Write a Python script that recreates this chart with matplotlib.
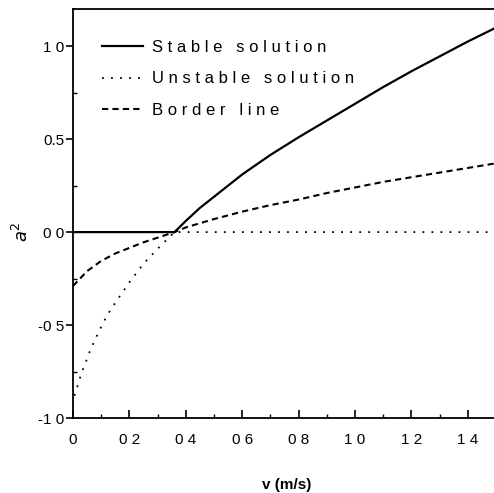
import numpy as np
import matplotlib
matplotlib.use('Agg')
import matplotlib.pyplot as plt
from matplotlib.ticker import FixedLocator, FixedFormatter, MultipleLocator

plt.rcParams['font.family'] = ['Liberation Sans', 'DejaVu Sans']

# Values
stable_v = [0.0, 0.36, 0.40, 0.45, 0.50, 0.60, 0.70, 0.80, 0.90, 1.00, 1.10, 1.20, 1.30, 1.40, 1.50]
stable_a2 = [0.0, 0.0, 0.06, 0.13, 0.19, 0.31, 0.415, 0.51, 0.60, 0.69, 0.78, 0.865, 0.945, 1.025, 1.10]

unstable_v = [0.005, 0.03, 0.06, 0.09, 0.12, 0.15, 0.20, 0.25, 0.30, 0.36, 0.60, 0.90, 1.20, 1.50]
unstable_a2 = [-0.88, -0.76, -0.64, -0.54, -0.45, -0.38, -0.27, -0.17, -0.09, 0.0, 0.0, 0.0, 0.0, 0.0]

border_v = [0.0, 0.05, 0.10, 0.15, 0.20, 0.25, 0.30, 0.36, 0.40, 0.50, 0.60, 0.70, 0.80, 0.90,
            1.00, 1.10, 1.20, 1.30, 1.40, 1.50]
border_a2 = [-0.29, -0.21, -0.155, -0.115, -0.085, -0.055, -0.03, 0.0, 0.025, 0.07, 0.11, 0.145,
             0.175, 0.21, 0.24, 0.27, 0.295, 0.32, 0.345, 0.37]

labels = ['Stable solution', 'Unstable solution', 'Border line']

xticks = [0.0, 0.2, 0.4, 0.6, 0.8, 1.0, 1.2, 1.4]
xticklabels = ['0', '0 2', '0 4', '0 6', '0 8', '1 0', '1 2', '1 4']
yticks = [-1.0, -0.5, 0.0, 0.5, 1.0]
yticklabels = ['-1 0', '-0 5', '0 0', '0.5', '1 0']


def spaced(s):
    # the original legend is set with wide letter spacing
    return '   '.join(' '.join(w) for w in s.split())


fig = plt.figure(figsize=(4.94, 4.93), dpi=100)
ax = fig.add_axes([73 / 494, 1 - 418 / 493, 423 / 494, 409 / 493])

ax.plot(stable_v, stable_a2, color='black', lw=1.6, label=spaced(labels[0]))
ax.plot(unstable_v, unstable_a2, color='black', lw=1.3, linestyle=(0, (1, 4)),
        label=spaced(labels[1]))
ax.plot(border_v, border_a2, color='black', lw=1.5, linestyle=(0, (3, 2)),
        label=spaced(labels[2]))

ax.set_xlim(0, 1.5)
ax.set_ylim(-1.0, 1.2)

ax.xaxis.set_major_locator(FixedLocator(xticks))
ax.xaxis.set_major_formatter(FixedFormatter(xticklabels))
ax.xaxis.set_minor_locator(MultipleLocator(0.1))
ax.yaxis.set_major_locator(FixedLocator(yticks))
ax.yaxis.set_major_formatter(FixedFormatter(yticklabels))
ax.yaxis.set_minor_locator(MultipleLocator(0.25))

ax.tick_params(axis='x', which='major', direction='in', length=6, width=1.2,
               pad=11, labelsize=11)
ax.tick_params(axis='x', which='minor', direction='in', length=3, width=1.0)
ax.tick_params(axis='y', which='major', direction='out', length=5, width=1.2,
               pad=1, labelsize=11)
ax.tick_params(axis='y', which='minor', direction='in', length=3, width=1.0)

for s in ax.spines.values():
    s.set_linewidth(1.3)

ax.set_xlabel('v (m/s)', fontsize=11, fontweight='bold')
ax.xaxis.set_label_coords(0.506, -0.147)
ax.set_ylabel('$a^2$', fontsize=13)
ax.yaxis.set_label_coords(-0.097, 0.455)

ax.legend(loc='upper left', bbox_to_anchor=(0.068, 0.925), frameon=False,
          fontsize=12, handlelength=2.5, handletextpad=0.5, labelspacing=1.0,
          borderpad=0, borderaxespad=0)

fig.savefig('out.png', dpi=100)
